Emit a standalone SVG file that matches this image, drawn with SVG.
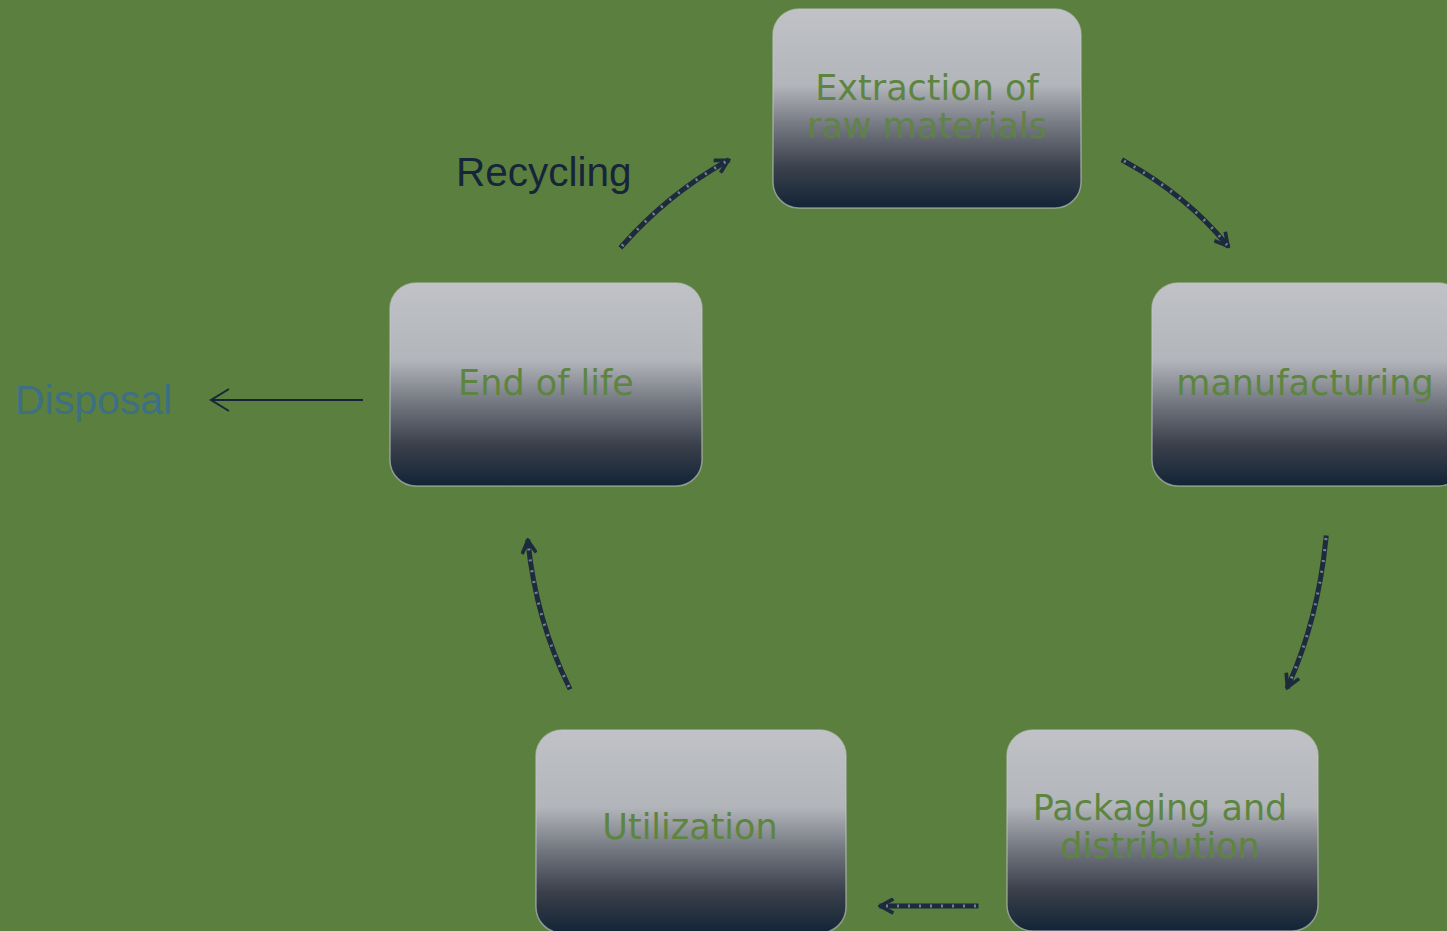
<svg xmlns="http://www.w3.org/2000/svg" width="1447" height="931" viewBox="0 0 1447 931">
<style>
.box{fill:url(#g);stroke:#c4c7cc;stroke-width:1.5;stroke-opacity:0.6}
.lbl{font-family:"DejaVu Sans",Verdana,sans-serif;font-size:35px;fill:#5d8540;text-anchor:middle}
.conn{fill:none;stroke:#1c2b3e;stroke-width:5;stroke-linecap:square}
.tex{fill:none;stroke:#8f96a0;stroke-width:3;stroke-dasharray:2 9;opacity:0.8}
</style>
<defs>
<linearGradient id="g" x1="0" y1="0" x2="0" y2="1">
<stop offset="0" stop-color="#c0c2c7"/>
<stop offset="0.38" stop-color="#b2b5ba"/>
<stop offset="0.6" stop-color="#70747d"/>
<stop offset="0.8" stop-color="#3a404b"/>
<stop offset="1" stop-color="#122436"/>
</linearGradient>
<marker id="ah" viewBox="0 0 12 12" refX="9" refY="6" markerWidth="3.4" markerHeight="3.4" orient="auto" markerUnits="strokeWidth">
<path d="M1,1 L10,6 L1,11" fill="none" stroke="#1c2b3e" stroke-width="2.6"/>
</marker>
</defs>
<rect width="1447" height="931" fill="#5b7f3e"/>
<g id="n-extraction">
<rect class="box" x="773" y="9" width="308" height="199" rx="26"/>
<text class="lbl" x="927" y="100">Extraction of</text>
<text class="lbl" x="927" y="138" opacity="0.85">raw materials</text>
</g>
<g id="n-manufacturing">
<rect class="box" x="1152" y="283" width="312" height="203" rx="26"/>
<text class="lbl" x="1305" y="395">manufacturing</text>
</g>
<g id="n-packaging">
<rect class="box" x="1007" y="730" width="311" height="201" rx="26"/>
<text class="lbl" x="1160" y="820">Packaging and</text>
<text class="lbl" x="1160" y="858">distribution</text>
</g>
<g id="n-utilization">
<rect class="box" x="536" y="730" width="310" height="203" rx="26"/>
<text class="lbl" x="690" y="839">Utilization</text>
</g>
<g id="n-endoflife">
<rect class="box" x="390" y="283" width="312" height="203" rx="26"/>
<text class="lbl" x="546" y="395">End of life</text>
</g>
<g id="t-recycling">
<text x="456" y="186" font-family="'Liberation Sans',Arial,sans-serif" font-size="40.5" fill="#17253a">Recycling</text>
</g>
<g id="t-disposal">
<text x="15" y="414" font-family="'Liberation Sans',Arial,sans-serif" font-size="41" fill="#3d6f86">Disposal</text>
</g>
<g id="connectors">
<path class="conn" d="M622,246 Q668,194 727,161" marker-end="url(#ah)"/>
<path class="tex" d="M622,246 Q668,194 727,161"/>
<path class="conn" d="M1124,161 Q1186,195 1227,245" marker-end="url(#ah)"/>
<path class="tex" d="M1124,161 Q1186,195 1227,245"/>
<path class="conn" d="M1326,538 Q1318,620 1288,686" marker-end="url(#ah)"/>
<path class="tex" d="M1326,538 Q1318,620 1288,686"/>
<path class="conn" d="M976,906 L882,906" marker-end="url(#ah)"/>
<path class="tex" d="M976,906 L882,906"/>
<path class="conn" d="M569,687 Q536,620 528,542" marker-end="url(#ah)"/>
<path class="tex" d="M569,687 Q536,620 528,542"/>
<path d="M363,400 L211,400 M229,389 L211,400 L229,411" fill="none" stroke="#17253a" stroke-width="2"/>
</g>
</svg>
